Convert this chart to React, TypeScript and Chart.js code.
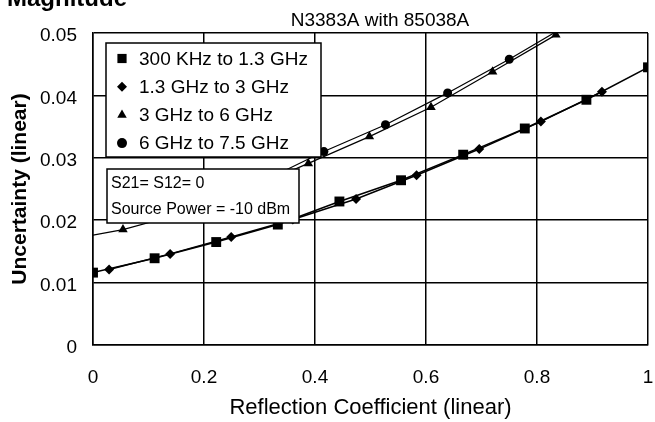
import React, { useEffect, useRef } from 'react';
import { Chart, registerables } from 'chart.js';
import { drawPoint } from 'chart.js/helpers';

Chart.register(...registerables);

// ---- data ----
const seriesLabels = ['300 KHz to 1.3 GHz', '1.3 GHz to 3 GHz', '3 GHz to 6 GHz', '6 GHz to 7.5 GHz'];

const xBand1 = [0, 0.111, 0.222, 0.333, 0.444, 0.555, 0.667, 0.778, 0.889, 1.0];
const yBand1 = [0.0116, 0.0139, 0.0165, 0.0193, 0.0230, 0.0264, 0.0305, 0.0347, 0.0393, 0.0445];

const xBand2 = [0.029, 0.139, 0.249, 0.36, 0.474, 0.583, 0.696, 0.807, 0.917];
const yBand2 = [0.0121, 0.0146, 0.0173, 0.0201, 0.0234, 0.0272, 0.0314, 0.0358, 0.0406];

const xBand3 = [0, 0.054, 0.165, 0.276, 0.388, 0.498, 0.609, 0.72, 0.834];
const yBand3 = [0.0176, 0.0185, 0.0212, 0.0248, 0.0291, 0.0334, 0.0381, 0.0438, 0.0497];

const xBand4 = [0.194, 0.305, 0.416, 0.527, 0.639, 0.75, 0.861];
const yBand4 = [0.0224, 0.0262, 0.0310, 0.0353, 0.0404, 0.0458, 0.0516];

const xTickValues = [0, 0.2, 0.4, 0.6, 0.8, 1];
const xTickLabels = ['0', '0.2', '0.4', '0.6', '0.8', '1'];
const yTickValues = [0, 0.01, 0.02, 0.03, 0.04, 0.05];
const yTickLabels = ['0', '0.01', '0.02', '0.03', '0.04', '0.05'];

const pageHeading = 'Magnitude';
const chartTitle = 'N3383A with 85038A';
const xAxisTitle = 'Reflection Coefficient (linear)';
const yAxisTitle = 'Uncertainty (linear)';
const noteLines = ['S21= S12= 0', 'Source Power = -10 dBm'];

const FONT = '"Liberation Sans", Arial, sans-serif';

const toPoints = (xs: number[], ys: number[]) => xs.map((x, i) => ({ x, y: ys[i] }));

const overlayPlugin = {
  id: 'overlay',
  afterDraw(chart: any) {
    const ctx: CanvasRenderingContext2D = chart.ctx;
    const area = chart.chartArea;
    ctx.save();
    ctx.fillStyle = '#000';
    ctx.strokeStyle = '#000';

    // cut-off page heading
    ctx.font = `bold 24px ${FONT}`;
    ctx.textAlign = 'left';
    ctx.textBaseline = 'alphabetic';
    ctx.fillText(pageHeading, 7, 6);

    // chart title
    ctx.font = `19px ${FONT}`;
    ctx.textAlign = 'center';
    ctx.textBaseline = 'middle';
    ctx.fillText(chartTitle, 380, 21);

    // legend box
    const lx = area.left + 13;
    const ly = area.top + 10;
    const lw = 215;
    const lh = 114;
    ctx.fillStyle = '#fff';
    ctx.fillRect(lx, ly, lw, lh);
    ctx.lineWidth = 1.5;
    ctx.strokeRect(lx, ly, lw, lh);
    ctx.fillStyle = '#000';
    ctx.font = `19px ${FONT}`;
    ctx.textAlign = 'left';
    ctx.textBaseline = 'middle';
    chart.data.datasets.forEach((ds: any, i: number) => {
      const cy = ly + 15.5 + i * 28.2;
      const r = ds.legendRadius;
      drawPoint(ctx, { pointStyle: ds.pointStyle, radius: r, borderWidth: 0, rotation: 0 } as any, lx + 16, cy);
      ctx.fillText(ds.label, lx + 33, cy + 1);
    });

    // note box
    const nx = area.left + 14;
    const ny = area.top + 136;
    const nw = 192;
    const nh = 54;
    ctx.fillStyle = '#fff';
    ctx.fillRect(nx, ny, nw, nh);
    ctx.strokeRect(nx, ny, nw, nh);
    ctx.fillStyle = '#000';
    ctx.font = `16px ${FONT}`;
    ctx.fillText(noteLines[0], nx + 4, ny + 14.5);
    ctx.fillText(noteLines[1], nx + 4, ny + 40.5);
    ctx.restore();
  },
};

export default function App() {
  const canvasRef = useRef<HTMLCanvasElement | null>(null);

  useEffect(() => {
    if (!canvasRef.current) return;
    const common = {
      borderColor: '#000',
      backgroundColor: '#000',
      pointBackgroundColor: '#000',
      pointBorderColor: '#000',
      pointBorderWidth: 0,
      borderWidth: 1.5,
      fill: false,
      tension: 0,
    };
    const chart = new Chart(canvasRef.current, {
      type: 'line',
      data: {
        datasets: [
          { ...common, label: seriesLabels[0], data: toPoints(xBand1, yBand1), pointStyle: 'rect', pointRadius: 7, legendRadius: 6.5 } as any,
          { ...common, label: seriesLabels[1], data: toPoints(xBand2, yBand2), pointStyle: 'rectRot', pointRadius: 5, legendRadius: 5 } as any,
          {
            ...common,
            label: seriesLabels[2],
            data: toPoints(xBand3, yBand3),
            pointStyle: 'triangle',
            pointRadius: (c: any) => (c.dataIndex === 0 ? 0 : 5.5),
            legendRadius: 5.5,
            borderWidth: 1.2,
          } as any,
          { ...common, label: seriesLabels[3], data: toPoints(xBand4, yBand4), pointStyle: 'circle', pointRadius: 4.5, legendRadius: 5, borderWidth: 1.2 } as any,
        ],
      },
      options: {
        animation: false,
        responsive: false,
        devicePixelRatio: 1,
        layout: { padding: { top: 33, right: 5, left: 0, bottom: 0 } },
        plugins: {
          legend: { display: false },
          tooltip: { enabled: false },
          title: { display: false },
        },
        scales: {
          x: {
            type: 'linear',
            min: 0,
            max: 1,
            afterFit: (s: any) => {
              s.height = 77;
              s.paddingLeft = 0;
              s.paddingRight = 0;
            },
            afterBuildTicks: (s: any) => {
              s.ticks = xTickValues.map((v) => ({ value: v }));
            },
            ticks: {
              padding: 21,
              color: '#000',
              font: { family: FONT, size: 19 },
              maxRotation: 0,
              autoSkip: false,
              callback: (_v: any, i: number) => xTickLabels[i],
            },
            grid: { color: '#000', lineWidth: 1.5, drawTicks: false },
            border: { color: '#000', width: 1.5 },
            title: {
              display: true,
              text: xAxisTitle,
              color: '#000',
              font: { family: FONT, size: 22 },
              padding: { top: 0, bottom: 1 },
            },
          },
          y: {
            type: 'linear',
            min: 0,
            max: 0.05,
            afterFit: (s: any) => {
              s.width = 93;
              s.paddingTop = 0;
              s.paddingBottom = 0;
            },
            afterBuildTicks: (s: any) => {
              s.ticks = yTickValues.map((v) => ({ value: v }));
            },
            ticks: {
              padding: 16,
              labelOffset: 3,
              color: '#000',
              font: { family: FONT, size: 19 },
              autoSkip: false,
              callback: (_v: any, i: number) => yTickLabels[i],
            },
            grid: { color: '#000', lineWidth: 1.5, drawTicks: false },
            border: { color: '#000', width: 1.5 },
            title: {
              display: true,
              text: yAxisTitle,
              color: '#000',
              font: { family: FONT, size: 21, weight: 'bold' },
              padding: { top: 8, bottom: 0 },
            },
          },
        },
      } as any,
      plugins: [overlayPlugin],
    });
    return () => chart.destroy();
  }, []);

  return (
    <div style={{ position: 'absolute', left: 0, top: 0, width: 655, height: 422, background: '#fff' }}>
      <canvas ref={canvasRef} width={655} height={422} style={{ display: 'block' }} />
    </div>
  );
}
